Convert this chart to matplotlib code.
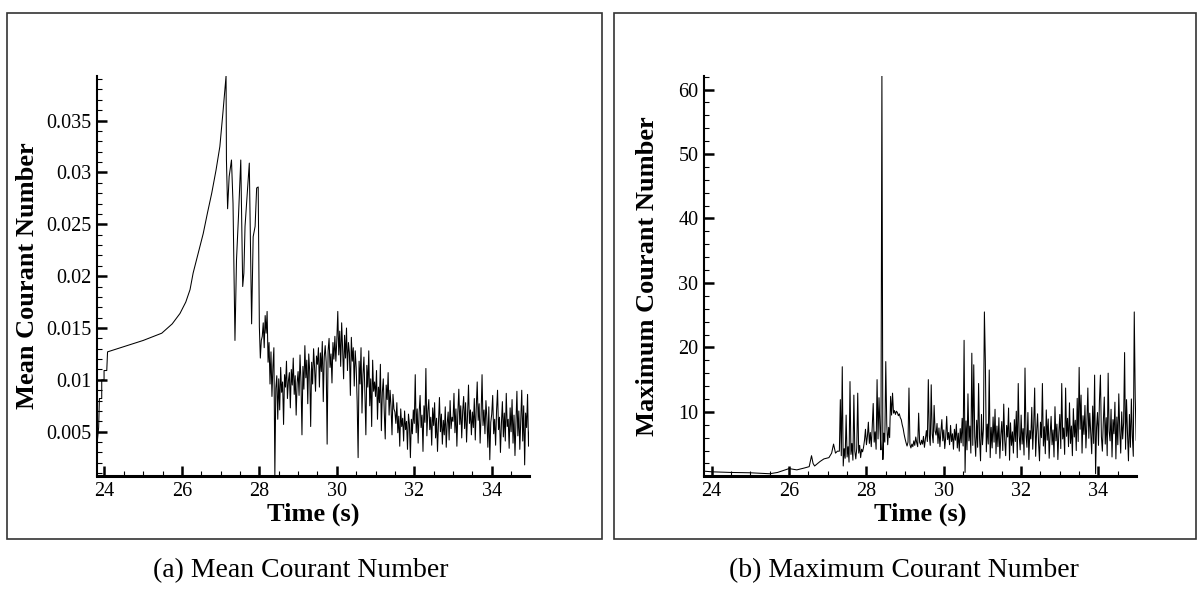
import numpy as np
import matplotlib
matplotlib.use('Agg')
import matplotlib.pyplot as plt
from matplotlib.ticker import MultipleLocator, FuncFormatter
from matplotlib.patches import Rectangle

plt.rcParams['font.family'] = ['Liberation Serif', 'DejaVu Serif']

# ---- (a) mean Courant number ----
# start-up steps and smooth ramp
mean_t_ramp = [23.80, 23.85, 23.87, 23.93, 23.93, 23.99, 23.99, 24.06, 24.08,
               24.5, 25.0, 25.48, 25.75, 25.95, 26.1, 26.21, 26.29, 26.42,
               26.55, 26.66, 26.77, 26.88, 26.98, 27.06, 27.14]
mean_ramp = [0.0035, 0.0054, 0.0082, 0.0082, 0.0100, 0.0100, 0.0109, 0.0109, 0.0127,
             0.0132, 0.0138, 0.0145, 0.0154, 0.0164, 0.0175, 0.0187, 0.0203, 0.0222,
             0.0241, 0.0261, 0.0280, 0.0302, 0.0325, 0.0358, 0.0393]
# large oscillations after the peak
mean_t_burst = [27.15, 27.18, 27.22, 27.28, 27.32, 27.37, 27.41, 27.46, 27.52,
                27.57, 27.60, 27.63, 27.74, 27.80, 27.84, 27.89, 27.93, 27.97]
mean_burst = [0.0312, 0.0265, 0.0296, 0.0312, 0.0270, 0.0138, 0.0216, 0.0257, 0.0312,
              0.0190, 0.0203, 0.0248, 0.0309, 0.0154, 0.0238, 0.0248, 0.0285, 0.0286]
# noisy part, sampled every 0.025 s from 28.0 s
mean_noise_t0 = 28.0
mean_noise = [
    0.0151, 0.0121, 0.0138, 0.0142, 0.0155, 0.0131, 0.0162, 0.0145, 0.0166, 0.0117,
    0.0136, 0.0096, 0.0127, 0.0084, 0.0113, 0.0131, 0.0008, 0.0092, 0.0104, 0.0062,
    0.0101, 0.0071, 0.0112, 0.0088, 0.0098, 0.0057, 0.0105, 0.0093, 0.0118, 0.0082,
    0.0099, 0.0107, 0.0073, 0.0110, 0.0095, 0.0121, 0.0086, 0.0104, 0.0066, 0.0097,
    0.0108, 0.0085, 0.0124, 0.0098, 0.0047, 0.0113, 0.0091, 0.0133, 0.0102, 0.0119,
    0.0077, 0.0125, 0.0108, 0.0055, 0.0117, 0.0096, 0.0130, 0.0112, 0.0089, 0.0123,
    0.0115, 0.0131, 0.0093, 0.0126, 0.0108, 0.0137, 0.0079, 0.0122, 0.0133, 0.0117,
    0.0038, 0.0128, 0.0140, 0.0112, 0.0125, 0.0097, 0.0136, 0.0120, 0.0142, 0.0118,
    0.0138, 0.0166, 0.0124, 0.0147, 0.0113, 0.0155, 0.0130, 0.0101, 0.0143, 0.0121,
    0.0150, 0.0109, 0.0136, 0.0126, 0.0085, 0.0141, 0.0118, 0.0131, 0.0094, 0.0128,
    0.0112, 0.0079, 0.0025, 0.0118, 0.0096, 0.0131, 0.0068, 0.0105, 0.0122, 0.0087,
    0.0047, 0.0114, 0.0093, 0.0128, 0.0075, 0.0101, 0.0055, 0.0119, 0.0089, 0.0098,
    0.0084, 0.0109, 0.0062, 0.0093, 0.0078, 0.0115, 0.0051, 0.0088, 0.0101, 0.0069,
    0.0043, 0.0095, 0.0081, 0.0107, 0.0066, 0.0090, 0.0074, 0.0047, 0.0086, 0.0072,
    0.0069, 0.0058, 0.0078, 0.0049, 0.0065, 0.0036, 0.0072, 0.0055, 0.0063, 0.0041,
    0.0070, 0.0052, 0.0060, 0.0033, 0.0067, 0.0057, 0.0025, 0.0062, 0.0048, 0.0071,
    0.0058, 0.0105, 0.0049, 0.0072, 0.0039, 0.0068, 0.0085, 0.0054, 0.0066, 0.0031,
    0.0075, 0.0059, 0.0111, 0.0046, 0.0070, 0.0081, 0.0052, 0.0064, 0.0037, 0.0073,
    0.0056, 0.0078, 0.0044, 0.0063, 0.0031, 0.0059, 0.0083, 0.0050, 0.0067, 0.0038,
    0.0061, 0.0047, 0.0074, 0.0035, 0.0058, 0.0069, 0.0042, 0.0080, 0.0053, 0.0064,
    0.0060, 0.0087, 0.0049, 0.0072, 0.0036, 0.0068, 0.0091, 0.0057, 0.0075, 0.0044,
    0.0070, 0.0084, 0.0053, 0.0078, 0.0040, 0.0066, 0.0095, 0.0058, 0.0071, 0.0047,
    0.0069, 0.0054, 0.0082, 0.0042, 0.0073, 0.0098, 0.0061, 0.0077, 0.0039, 0.0066,
    0.0105, 0.0056, 0.0071, 0.0048, 0.0080, 0.0063, 0.0035, 0.0074, 0.0023, 0.0059,
    0.0067, 0.0085, 0.0048, 0.0062, 0.0037, 0.0071, 0.0090, 0.0052, 0.0064, 0.0030,
    0.0058, 0.0079, 0.0045, 0.0068, 0.0041, 0.0087, 0.0055, 0.0062, 0.0034, 0.0073,
    0.0050, 0.0081, 0.0039, 0.0066, 0.0027, 0.0059, 0.0089, 0.0046, 0.0070, 0.0033,
    0.0062, 0.0090, 0.0041, 0.0075, 0.0018, 0.0068, 0.0054, 0.0086, 0.0036, 0.0052,
]

# ---- (b) maximum Courant number ----
max_t_ramp = [23.80, 24.0, 24.5, 25.0, 25.5, 25.7, 25.9, 26.0, 26.2, 26.4, 26.52,
              26.58, 26.62, 26.66, 26.8, 26.9, 27.03, 27.1, 27.15, 27.2, 27.25]
max_ramp = [0.8, 0.7, 0.6, 0.55, 0.4, 0.6, 1.0, 1.2, 1.0, 1.3, 1.5,
            3.2, 2.0, 1.6, 2.3, 2.7, 2.9, 3.6, 5.0, 3.6, 3.9]
max_noise_t0 = 27.3
max_noise = [
    3.9, 11.9, 3.2, 17.0, 1.6, 4.3, 2.8, 9.5, 3.0, 4.6, 2.2, 14.7, 3.4, 5.1, 2.5, 12.6, 3.9, 2.7, 4.4, 12.9,
    3.6, 4.8, 2.9, 4.2, 3.8, 4.5, 5.6, 7.3, 4.9, 6.2, 8.4, 5.1, 6.8, 4.6, 7.7, 11.3, 5.3, 6.9, 4.2, 15.0,
    5.8, 12.2, 7.4, 4.1, 62.2, 2.6, 6.7, 5.3, 17.8, 8.1, 4.9, 7.6, 6.0, 12.4, 9.5, 12.9, 9.8, 10.2, 9.6, 10.1,
    9.9, 9.4, 9.7, 9.1, 8.8, 8.0, 7.4, 6.5, 5.8, 5.2, 4.7, 5.3, 13.7, 4.9, 4.4, 5.0, 4.6, 5.5, 4.8, 6.1,
    5.2, 4.6, 9.8, 5.3, 4.9, 5.6, 5.0, 6.2, 4.5, 5.8, 7.1, 5.4, 15.0, 6.3, 4.8, 14.2, 6.6, 5.2, 11.0, 7.0,
    6.4, 8.2, 5.1, 7.5, 4.6, 6.9, 8.8, 5.5, 7.2, 4.3, 6.1, 9.3, 5.7, 6.8, 4.9, 7.9, 5.4, 6.6, 4.2, 7.3,
    5.6, 8.1, 4.4, 6.7, 3.9, 7.4, 5.2, 9.0, 4.7, 21.1, 0.6, 8.6, 4.1, 12.8, 5.5, 7.8, 3.6, 19.1, 4.8, 17.3,
    6.2, 3.1, 8.7, 4.5, 14.4, 5.9, 2.4, 9.6, 4.9, 7.3, 25.5, 17.8, 3.8, 8.1, 5.0, 16.5, 2.9, 7.6, 4.4, 9.2,
    5.3, 10.4, 3.5, 7.8, 4.6, 9.1, 2.8, 6.4, 8.5, 4.0, 11.2, 5.7, 3.2, 7.9, 6.1, 10.6, 2.5, 8.3, 4.8, 6.9,
    3.6, 8.8, 5.4, 10.1, 2.9, 14.4, 6.3, 4.1, 9.5, 5.0, 7.4, 3.3, 16.8, 6.6, 4.5, 9.9, 2.6, 7.1, 5.8, 10.7,
    4.2, 8.0, 13.7, 3.1, 6.9, 9.7, 5.2, 2.4, 8.4, 6.0, 14.4, 4.7, 7.7, 3.5, 10.3, 5.6, 8.9, 2.8, 6.5, 9.3,
    4.9, 7.2, 3.0, 10.8, 5.5, 8.1, 2.6, 6.8, 9.6, 4.3, 14.4, 5.8, 7.5, 3.4, 13.7, 6.2, 9.0, 4.6, 11.4, 5.1,
    7.8, 3.2, 10.5, 6.1, 8.7, 4.0, 12.1, 5.4, 16.9, 7.3, 12.6, 3.6, 9.4, 6.5, 11.0, 4.4, 8.2, 13.7, 5.9, 9.8,
    6.8, 3.5, 10.9, 5.1, 15.7, 0.4, 7.6, 9.9, 4.8, 11.8, 15.7, 6.2, 3.9, 8.5, 12.3, 5.0, 9.1, 3.2, 16.0, 7.0,
    5.5, 10.4, 3.0, 8.8, 6.6, 11.5, 2.7, 9.2, 4.9, 12.8, 7.1, 3.6, 10.0, 5.8, 8.3, 19.2, 4.2, 11.9, 6.7, 2.4,
    9.6, 4.5, 12.0, 6.3, 3.1, 25.5, 12.2, 5.6,
]

x_ticks = [24, 26, 28, 30, 32, 34]
mean_ticks = [0.005, 0.01, 0.015, 0.02, 0.025, 0.03, 0.035]
max_ticks = [10, 20, 30, 40, 50, 60]

dt = 0.025
mean_t = np.concatenate([mean_t_ramp, mean_t_burst,
                         mean_noise_t0 + dt * np.arange(len(mean_noise))])
mean_y = np.concatenate([mean_ramp, mean_burst, mean_noise])
max_t = np.concatenate([max_t_ramp, max_noise_t0 + dt * np.arange(len(max_noise))])
max_y = np.concatenate([max_ramp, max_noise])

W, H = 1197, 601
fig = plt.figure(figsize=(W / 100, H / 100), dpi=100)

def px_rect(x0, y0, x1, y1):
    return [x0 / W, 1 - y1 / H, (x1 - x0) / W, (y1 - y0) / H]

# outer frames
for x0, x1 in [(7.3, 601.7), (614.3, 1195.5)]:
    r = px_rect(x0, 12.7, x1, 539.3)
    fig.patches.append(Rectangle((r[0], r[1]), r[2], r[3], transform=fig.transFigure,
                                 fill=False, edgecolor='#333333', linewidth=1.2))

ax1 = fig.add_axes(px_rect(96.7, 76, 529.3, 476))
ax2 = fig.add_axes(px_rect(704, 76, 1136, 476))

ax1.plot(mean_t, mean_y, color='black', lw=0.75)
ax2.plot(max_t, max_y, color='black', lw=0.75)

ax1.set_xlim(23.8, 34.97)
ax1.set_ylim(0.00073, 0.0393)
ax1.set_yticks(mean_ticks)
ax1.yaxis.set_minor_locator(MultipleLocator(0.001))
ax1.yaxis.set_major_formatter(FuncFormatter(lambda v, p: '%g' % round(v, 4)))

ax2.set_xlim(23.8, 34.97)
ax2.set_ylim(0.05, 62.1)
ax2.set_yticks(max_ticks)
ax2.yaxis.set_minor_locator(MultipleLocator(2))

for ax in (ax1, ax2):
    ax.set_xticks(x_ticks)
    ax.xaxis.set_minor_locator(MultipleLocator(0.5))
    ax.spines['top'].set_visible(False)
    ax.spines['right'].set_visible(False)
    ax.spines['left'].set_linewidth(1.5)
    ax.spines['bottom'].set_linewidth(2.2)
    ax.tick_params(which='major', direction='in', length=7, width=1.8,
                   labelsize=14.5, pad=4)
    ax.tick_params(which='minor', direction='in', length=3.6, width=0.8)
    ax.patch.set_alpha(0)

# axis titles
fig.text(28 / W, 1 - 276 / H, 'Mean Courant Number', rotation=90, ha='center',
         va='center', fontsize=19, fontweight='bold')
fig.text(648 / W, 1 - 276 / H, 'Maximum Courant Number', rotation=90, ha='center',
         va='center', fontsize=19, fontweight='bold')
fig.text(313 / W, 1 - 514 / H, 'Time (s)', ha='center', va='center',
         fontsize=19, fontweight='bold')
fig.text(920 / W, 1 - 514 / H, 'Time (s)', ha='center', va='center',
         fontsize=19, fontweight='bold')

# captions
fig.text(301 / W, 1 - 571 / H, '(a) Mean Courant Number', ha='center', va='center',
         fontsize=20)
fig.text(904 / W, 1 - 571 / H, '(b) Maximum Courant Number', ha='center', va='center',
         fontsize=20)

fig.savefig('out.png', dpi=100, facecolor='white')
